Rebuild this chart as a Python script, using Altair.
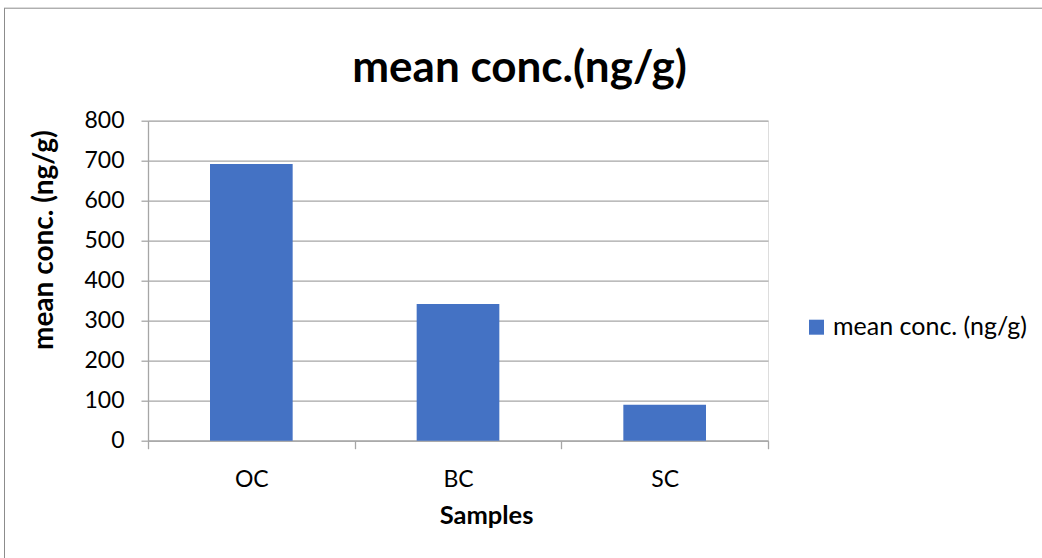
import altair as alt
import pandas as pd

samples = ["OC", "BC", "SC"]
values = [692, 342, 90]
series_name = "mean conc. (ng/g)"
y_ticks = [0, 100, 200, 300, 400, 500, 600, 700, 800]

df = pd.DataFrame({"Samples": samples, "value": values, "series": [series_name] * len(samples)})

FONT = "Lato"
GRID = "#A6A6A6"
BLUE = "#4472C4"
W, H = 620, 320

bars = alt.Chart(df).mark_bar(width=alt.RelativeBandSize(0.4)).encode(
    x=alt.X(
        "Samples:N", sort=samples,
        scale=alt.Scale(paddingInner=0, paddingOuter=0),
        axis=alt.Axis(
            title="Samples", labelAngle=0, tickBand="extent", grid=False,
            domainColor=GRID, domainWidth=1.3, tickColor=GRID, tickWidth=1.3, tickSize=8,
            labelPadding=20, labelFont=FONT, labelFontSize=23, labelColor="black",
            titleFont=FONT, titleFontSize=25.5, titleFontWeight="bold", titleColor="black",
            titlePadding=12, titleX=338, titleAlign="center",
        ),
    ),
    y=alt.Y(
        "value:Q",
        scale=alt.Scale(domain=[0, 800], nice=False),
        axis=alt.Axis(
            values=y_ticks, title="mean conc. (ng/g)",
            grid=True, gridColor=GRID, gridWidth=1.3,
            domainColor=GRID, domainWidth=1.3, tickColor=GRID, tickWidth=1.3, tickSize=7,
            labelPadding=17, labelFont=FONT, labelFontSize=23, labelColor="black",
            titleFont=FONT, titleFontSize=28, titleFontWeight="bold", titleColor="black",
            titleAngle=270, titleX=-104, titleY=119, titleAlign="center", titleBaseline="middle",
        ),
    ),
    color=alt.Color(
        "series:N",
        scale=alt.Scale(range=[BLUE]),
        legend=alt.Legend(
            title=None, orient="none", legendX=656, legendY=194,
            symbolType="square", symbolSize=225, symbolStrokeWidth=0,
            labelFont=FONT, labelFontSize=25, labelColor="black", labelOffset=4,
            labelLimit=0,
        ),
    ),
)

frame_df = pd.DataFrame({"k": [0]})
left_border = alt.Chart(frame_df).mark_rule(color="#8C8C8C", strokeWidth=1).encode(
    x=alt.value(-143.5), y=alt.value(-112.5), y2=alt.value(440)
)
top_border = alt.Chart(frame_df).mark_rule(color="#8C8C8C", strokeWidth=1).encode(
    x=alt.value(-144), x2=alt.value(900), y=alt.value(-112.5)
)

chart = alt.layer(bars, left_border, top_border).properties(
    width=W, height=H,
    title=alt.TitleParams(
        "mean conc.(ng/g)", font=FONT, fontSize=44, fontWeight="bold", color="black",
        anchor="middle", dx=61.5, offset=-105, baseline="middle",
    ),
    autosize=alt.AutoSizeParams(type="none"),
    padding={"left": 148, "top": 120.7, "right": 274, "bottom": 117.3},
).configure_view(stroke=None).configure(background="white")

chart.save("out.html", embed_options={"renderer": "svg", "actions": False})
